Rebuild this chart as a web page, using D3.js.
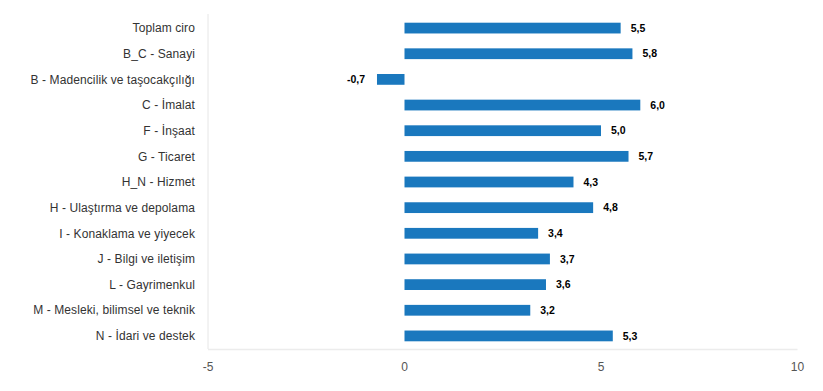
<!DOCTYPE html>
<html><head><meta charset="utf-8">
<script src="https://cdn.jsdelivr.net/npm/d3@7/dist/d3.min.js"></script>
<style>body{margin:0;background:#fff;}svg{display:block;font-family:"Liberation Sans",Arial,sans-serif;}</style>
</head><body>
<svg id="c" width="823" height="391"></svg>
<script>
const categories = ["Toplam ciro","B_C - Sanayi","B - Madencilik ve taşocakçılığı","C - İmalat","F - İnşaat","G - Ticaret","H_N - Hizmet","H - Ulaştırma ve depolama","I - Konaklama ve yiyecek","J - Bilgi ve iletişim","L - Gayrimenkul","M - Mesleki, bilimsel ve teknik","N - İdari ve destek"];
const values = [5.5,5.8,-0.7,6.0,5.0,5.7,4.3,4.8,3.4,3.7,3.6,3.2,5.3];
const tickValues = [-5,0,5,10];

const svg = d3.select("#c");
const x = d3.scaleLinear().domain([-5,10]).range([208,797.5]);
const y = d3.scaleBand().domain(categories).range([15,349]).paddingInner(0.58).paddingOuter(0.3);
const fmt = v => d3.format(".1f")(v).replace(".",",").replace("\u2212","-");

// left gridline
svg.append("line").attr("x1",x(-5)).attr("x2",x(-5)).attr("y1",14).attr("y2",349)
  .attr("stroke","#e6e6e6").attr("stroke-width",1);
// bottom axis line
svg.append("line").attr("x1",x(-5)).attr("x2",x(10)).attr("y1",349.5).attr("y2",349.5)
  .attr("stroke","#ececec").attr("stroke-width",1.5);

// x tick labels
svg.append("g").selectAll("text").data(tickValues).join("text")
  .attr("x",d=>x(d)).attr("y",371).attr("text-anchor","middle")
  .attr("font-size",12).attr("fill","#555").text(d=>d);

// category labels
svg.append("g").selectAll("text").data(categories).join("text")
  .attr("x",195).attr("y",d=>y(d)+y.bandwidth()/2).attr("dy","0.35em")
  .attr("text-anchor","end").attr("font-size",12).attr("letter-spacing","0.1px").attr("fill","#333").text(d=>d);

// bars
svg.append("g").selectAll("rect").data(values).join("rect")
  .attr("x",(d)=>x(Math.min(0,d))).attr("width",d=>Math.abs(x(d)-x(0)))
  .attr("y",(d,i)=>y(categories[i])).attr("height",y.bandwidth())
  .attr("fill","#1a78be");

// value labels
svg.append("g").selectAll("text").data(values).join("text")
  .attr("x",d=>d>=0? x(d)+10 : x(d)-12)
  .attr("y",(d,i)=>y(categories[i])+y.bandwidth()/2).attr("dy","0.35em")
  .attr("text-anchor",d=>d>=0?"start":"end")
  .attr("font-size",10.5).attr("font-weight","bold").attr("fill","#000").text(fmt);
</script>
</body></html>
